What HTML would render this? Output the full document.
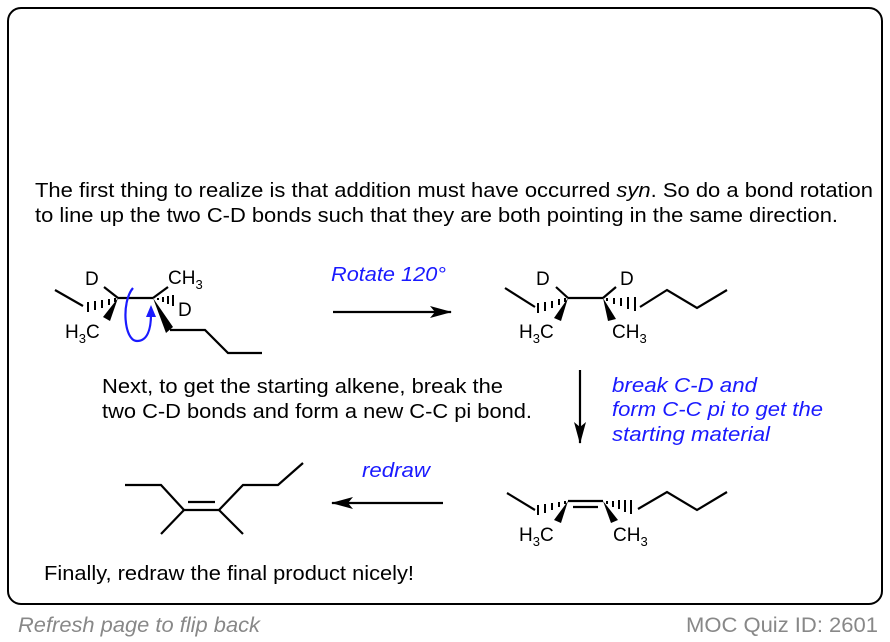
<!DOCTYPE html>
<html><head><style>
body{margin:0;background:#fff;width:890px;height:642px;overflow:hidden}
svg{display:block}
text{font-family:"Liberation Sans",sans-serif}
</style></head><body>
<svg width="890" height="642" viewBox="0 0 890 642">
<defs>
<marker id="ah" markerWidth="22" markerHeight="12" refX="21" refY="6" orient="auto" markerUnits="userSpaceOnUse"><path d="M0,0 L22,6 L0,12 L5,6 Z" fill="#000"/></marker>
</defs>
<rect x="8" y="8" width="874" height="596" rx="13" fill="#fff" stroke="#000" stroke-width="2"/>
<g font-size="20.5" fill="#000">
<text x="35" y="197" textLength="838" lengthAdjust="spacingAndGlyphs">The first thing to realize is that addition must have occurred <tspan font-style="italic">syn</tspan>. So do a bond rotation</text>
<text x="35" y="222" textLength="803" lengthAdjust="spacingAndGlyphs">to line up the two C-D bonds such that they are both pointing in the same direction.</text>
<text x="102" y="393" textLength="401" lengthAdjust="spacingAndGlyphs">Next, to get the starting alkene, break the</text>
<text x="102" y="418" textLength="430" lengthAdjust="spacingAndGlyphs">two C-D bonds and form a new C-C pi bond.</text>
<text x="44" y="580" textLength="370" lengthAdjust="spacingAndGlyphs">Finally, redraw the final product nicely!</text>
</g>
<g font-size="20" fill="#1a1aff" font-style="italic">
<text x="331" y="281" textLength="115" lengthAdjust="spacingAndGlyphs">Rotate 120°</text>
<text x="612" y="392" textLength="145" lengthAdjust="spacingAndGlyphs">break C-D and</text>
<text x="612" y="416" textLength="211" lengthAdjust="spacingAndGlyphs">form C-C pi to get the</text>
<text x="612" y="441" textLength="158" lengthAdjust="spacingAndGlyphs">starting material</text>
<text x="362" y="477" textLength="68" lengthAdjust="spacingAndGlyphs">redraw</text>
</g>
<g font-size="21" fill="#888">
<text x="18" y="632" font-style="italic" textLength="242" lengthAdjust="spacingAndGlyphs">Refresh page to flip back</text>
<text x="686" y="632" textLength="192" lengthAdjust="spacingAndGlyphs">MOC Quiz ID: 2601</text>
</g>
<g stroke="#000" stroke-width="2.2" fill="none">
<line x1="333" y1="312" x2="451" y2="312" marker-end="url(#ah)"/>
<line x1="580" y1="370" x2="580" y2="443" marker-end="url(#ah)"/>
<line x1="443" y1="503" x2="332" y2="503" marker-end="url(#ah)"/>
<line x1="55" y1="290" x2="83" y2="306"/>
<line x1="118" y1="298" x2="153" y2="298"/>
<line x1="118" y1="298" x2="104" y2="287"/>
<line x1="153" y1="298" x2="168" y2="287"/>
<polyline points="170,330 205,330 228,353 262,353"/>
<line x1="505" y1="288" x2="535" y2="307"/>
<line x1="568" y1="298" x2="603" y2="298"/>
<line x1="568" y1="298" x2="556" y2="287"/>
<line x1="603" y1="298" x2="616" y2="287"/>
<polyline points="640,307 667,290 697,308 727,290"/>
<line x1="507" y1="493" x2="535" y2="510"/>
<line x1="568" y1="501" x2="603" y2="501"/>
<line x1="573" y1="507" x2="598" y2="507"/>
<polyline points="638,509 667,492 697,510 727,492"/>
<polyline points="125,485 161,485 184,510 219,510 243,485 278,485 303,463"/>
<line x1="188" y1="502" x2="215" y2="502"/>
<line x1="184" y1="510" x2="161" y2="534"/>
<line x1="219" y1="510" x2="243" y2="534"/>
</g>
<g fill="#000">
<polygon points="118,298 103,317 110,321"/>
<polygon points="153,298 166,333 173,327"/>
<polygon points="568,298 554,318 561,321"/>
<polygon points="603,298 608,321 616,319"/>
<polygon points="568,501 554,520 561,523"/>
<polygon points="603,501 611,523 618,520"/>
</g>
<g stroke="#000" stroke-width="2">
<line x1="88" y1="302" x2="88" y2="312"/><line x1="95" y1="301" x2="95" y2="310"/><line x1="102" y1="300" x2="102" y2="308"/><line x1="109" y1="299" x2="109" y2="305"/><line x1="115" y1="298" x2="115" y2="302"/>
<line x1="158" y1="298" x2="158" y2="300"/><line x1="163" y1="297" x2="163" y2="302"/><line x1="168" y1="296" x2="168" y2="304"/><line x1="173" y1="295" x2="173" y2="306"/>
<line x1="538" y1="303" x2="538" y2="313"/><line x1="545" y1="302" x2="545" y2="311"/><line x1="552" y1="301" x2="552" y2="308"/><line x1="559" y1="299" x2="559" y2="305"/><line x1="565" y1="298" x2="565" y2="302"/>
<line x1="607" y1="298" x2="607" y2="301"/><line x1="614" y1="298" x2="614" y2="304"/><line x1="621" y1="298" x2="621" y2="306"/><line x1="628" y1="297" x2="628" y2="309"/><line x1="635" y1="297" x2="635" y2="311"/>
<line x1="538" y1="505" x2="538" y2="515"/><line x1="545" y1="504" x2="545" y2="513"/><line x1="552" y1="503" x2="552" y2="510"/><line x1="559" y1="502" x2="559" y2="507"/><line x1="565" y1="501" x2="565" y2="504"/>
<line x1="607" y1="501" x2="607" y2="504"/><line x1="613" y1="501" x2="613" y2="507"/><line x1="619" y1="500" x2="619" y2="509"/><line x1="625" y1="500" x2="625" y2="512"/><line x1="631" y1="500" x2="631" y2="514"/>
</g>
<path d="M133,288 C121,302 124,341 137,341 C147,341 151,330 151,314" stroke="#1a1aff" stroke-width="2.2" fill="none"/>
<polygon points="151,305 146,317 156,317" fill="#1a1aff"/>
<g font-size="19" fill="#000">
<text x="85" y="285">D</text>
<text x="168" y="284">CH<tspan font-size="13" dy="5">3</tspan></text>
<text x="178" y="316">D</text>
<text x="65" y="338">H<tspan font-size="13" dy="5">3</tspan><tspan dy="-5">C</tspan></text>
<text x="536" y="285">D</text>
<text x="620" y="285">D</text>
<text x="519" y="338">H<tspan font-size="13" dy="5">3</tspan><tspan dy="-5">C</tspan></text>
<text x="612" y="338">CH<tspan font-size="13" dy="5">3</tspan></text>
<text x="519" y="541">H<tspan font-size="13" dy="5">3</tspan><tspan dy="-5">C</tspan></text>
<text x="613" y="541">CH<tspan font-size="13" dy="5">3</tspan></text>
</g>
</svg>
</body></html>
